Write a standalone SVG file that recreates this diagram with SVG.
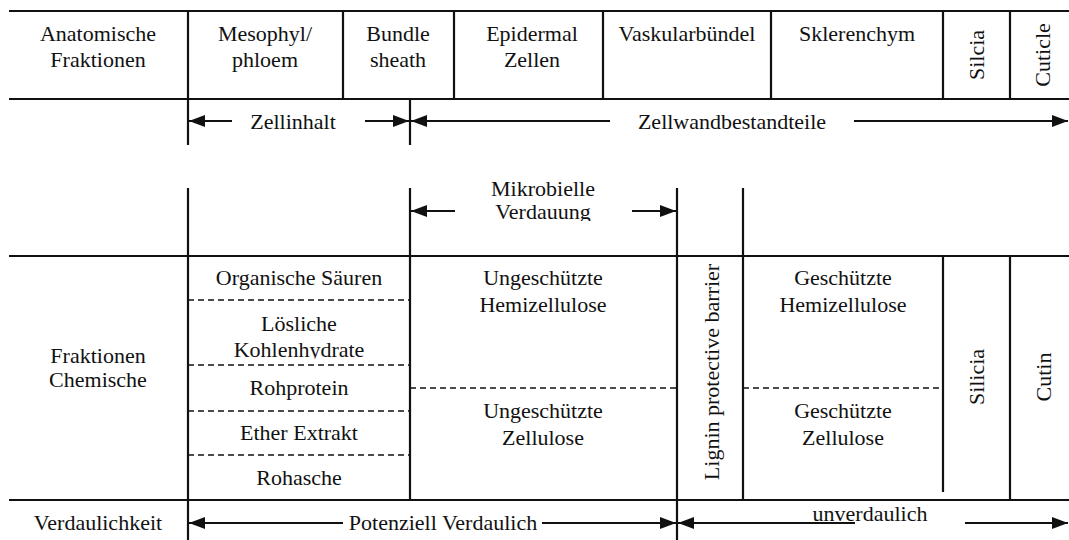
<svg xmlns="http://www.w3.org/2000/svg" width="1069" height="540" viewBox="0 0 1069 540" font-family="'Liberation Serif','Times New Roman',serif">
<style>
text{font-family:"Liberation Serif","Times New Roman",serif;font-size:22px;fill:#111;text-anchor:middle}
.g{stroke:#111;stroke-width:2.2;fill:none}
.d{stroke:#111;stroke-width:1.6;stroke-dasharray:6 4;fill:none}
.a{stroke:#111;stroke-width:2;fill:none;marker-end:url(#arr)}
</style>
<defs>
<marker id="arr" viewBox="0 0 16 12" refX="16" refY="6" markerWidth="16" markerHeight="12" markerUnits="userSpaceOnUse" orient="auto">
<path d="M0,0 L16,6 L0,12 z" fill="#111"/>
</marker>
<clipPath id="clipV"><rect x="400" y="170" width="280" height="51"/></clipPath>
<clipPath id="clipK"><rect x="190" y="310" width="218" height="48.5"/></clipPath>
</defs>
<rect width="1069" height="540" fill="#fff"/>
<g id="grid">
<path class="g" d="M9,11H1069M9,99H1069M9,256H1069M9,500H1069"/>
<path class="g" d="M188,11V145M343,11V99M454,11V99M603,11V99M771,11V99M943,11V99M1010,11V99M410,99V145"/>
<path class="g" d="M188,188V540M410,188V500M677,188V540M743,188V500M943,256V492M1010,256V500"/>
<path class="d" d="M188,300H410M188,365H410M188,411H410M188,455H410M410,388H677M743,388H943"/>
</g>
<g id="connectors">
<path class="a" d="M232,121H189"/>
<path class="a" d="M365,121H409"/>
<path class="a" d="M610,121H411"/>
<path class="a" d="M854,121H1068"/>
<path class="a" d="M455,211H411"/>
<path class="a" d="M632,211H676"/>
<path class="a" d="M343,523H189"/>
<path class="a" d="M542,523H676"/>
<path class="a" d="M855,523H678"/>
<path class="a" d="M965,523H1068"/>
</g>
<g id="h-anatomische"><text x="98" y="41">Anatomische</text><text x="98" y="67">Fraktionen</text></g>
<g id="h-mesophyl"><text x="265" y="41">Mesophyl/</text><text x="265" y="67">phloem</text></g>
<g id="h-bundle"><text x="398" y="41">Bundle</text><text x="398" y="67">sheath</text></g>
<g id="h-epidermal"><text x="532" y="41">Epidermal</text><text x="532" y="67">Zellen</text></g>
<g id="h-vaskular"><text x="687" y="41">Vaskularbündel</text></g>
<g id="h-sklerenchym"><text x="857" y="41">Sklerenchym</text></g>
<g id="h-silcia"><text transform="translate(984,55) rotate(-90)">Silcia</text></g>
<g id="h-cuticle"><text transform="translate(1050,55) rotate(-90)">Cuticle</text></g>
<g id="l-zellinhalt"><text x="293" y="129">Zellinhalt</text></g>
<g id="l-zellwand"><text x="732" y="129">Zellwandbestandteile</text></g>
<g id="l-mikrobielle" clip-path="url(#clipV)"><text x="543" y="196">Mikrobielle</text><text x="543" y="219">Verdauung</text></g>
<g id="c-organische"><text x="299" y="285">Organische Säuren</text></g>
<g id="c-loesliche" clip-path="url(#clipK)"><text x="299" y="331">Lösliche</text><text x="299" y="357">Kohlenhydrate</text></g>
<g id="c-rohprotein"><text x="299" y="395">Rohprotein</text></g>
<g id="c-ether"><text x="299" y="440">Ether Extrakt</text></g>
<g id="c-rohasche"><text x="299" y="485">Rohasche</text></g>
<g id="l-chemische"><text x="98" y="363">Fraktionen</text><text x="98" y="387">Chemische</text></g>
<g id="c-ung-hemi"><text x="543" y="285">Ungeschützte</text><text x="543" y="312">Hemizellulose</text></g>
<g id="c-ung-zell"><text x="543" y="418">Ungeschützte</text><text x="543" y="445">Zellulose</text></g>
<g id="c-lignin"><text transform="translate(719,372) rotate(-90)">Lignin protective barrier</text></g>
<g id="c-ges-hemi"><text x="843" y="285">Geschützte</text><text x="843" y="312">Hemizellulose</text></g>
<g id="c-ges-zell"><text x="843" y="418">Geschützte</text><text x="843" y="445">Zellulose</text></g>
<g id="c-silicia"><text transform="translate(984,377) rotate(-90)">Silicia</text></g>
<g id="c-cutin"><text transform="translate(1051,377) rotate(-90)">Cutin</text></g>
<g id="l-verdaulichkeit"><text x="98" y="530">Verdaulichkeit</text></g>
<g id="l-potenziell"><text x="443" y="530">Potenziell Verdaulich</text></g>
<g id="l-unverdaulich"><text x="870" y="521">unverdaulich</text></g>
</svg>
